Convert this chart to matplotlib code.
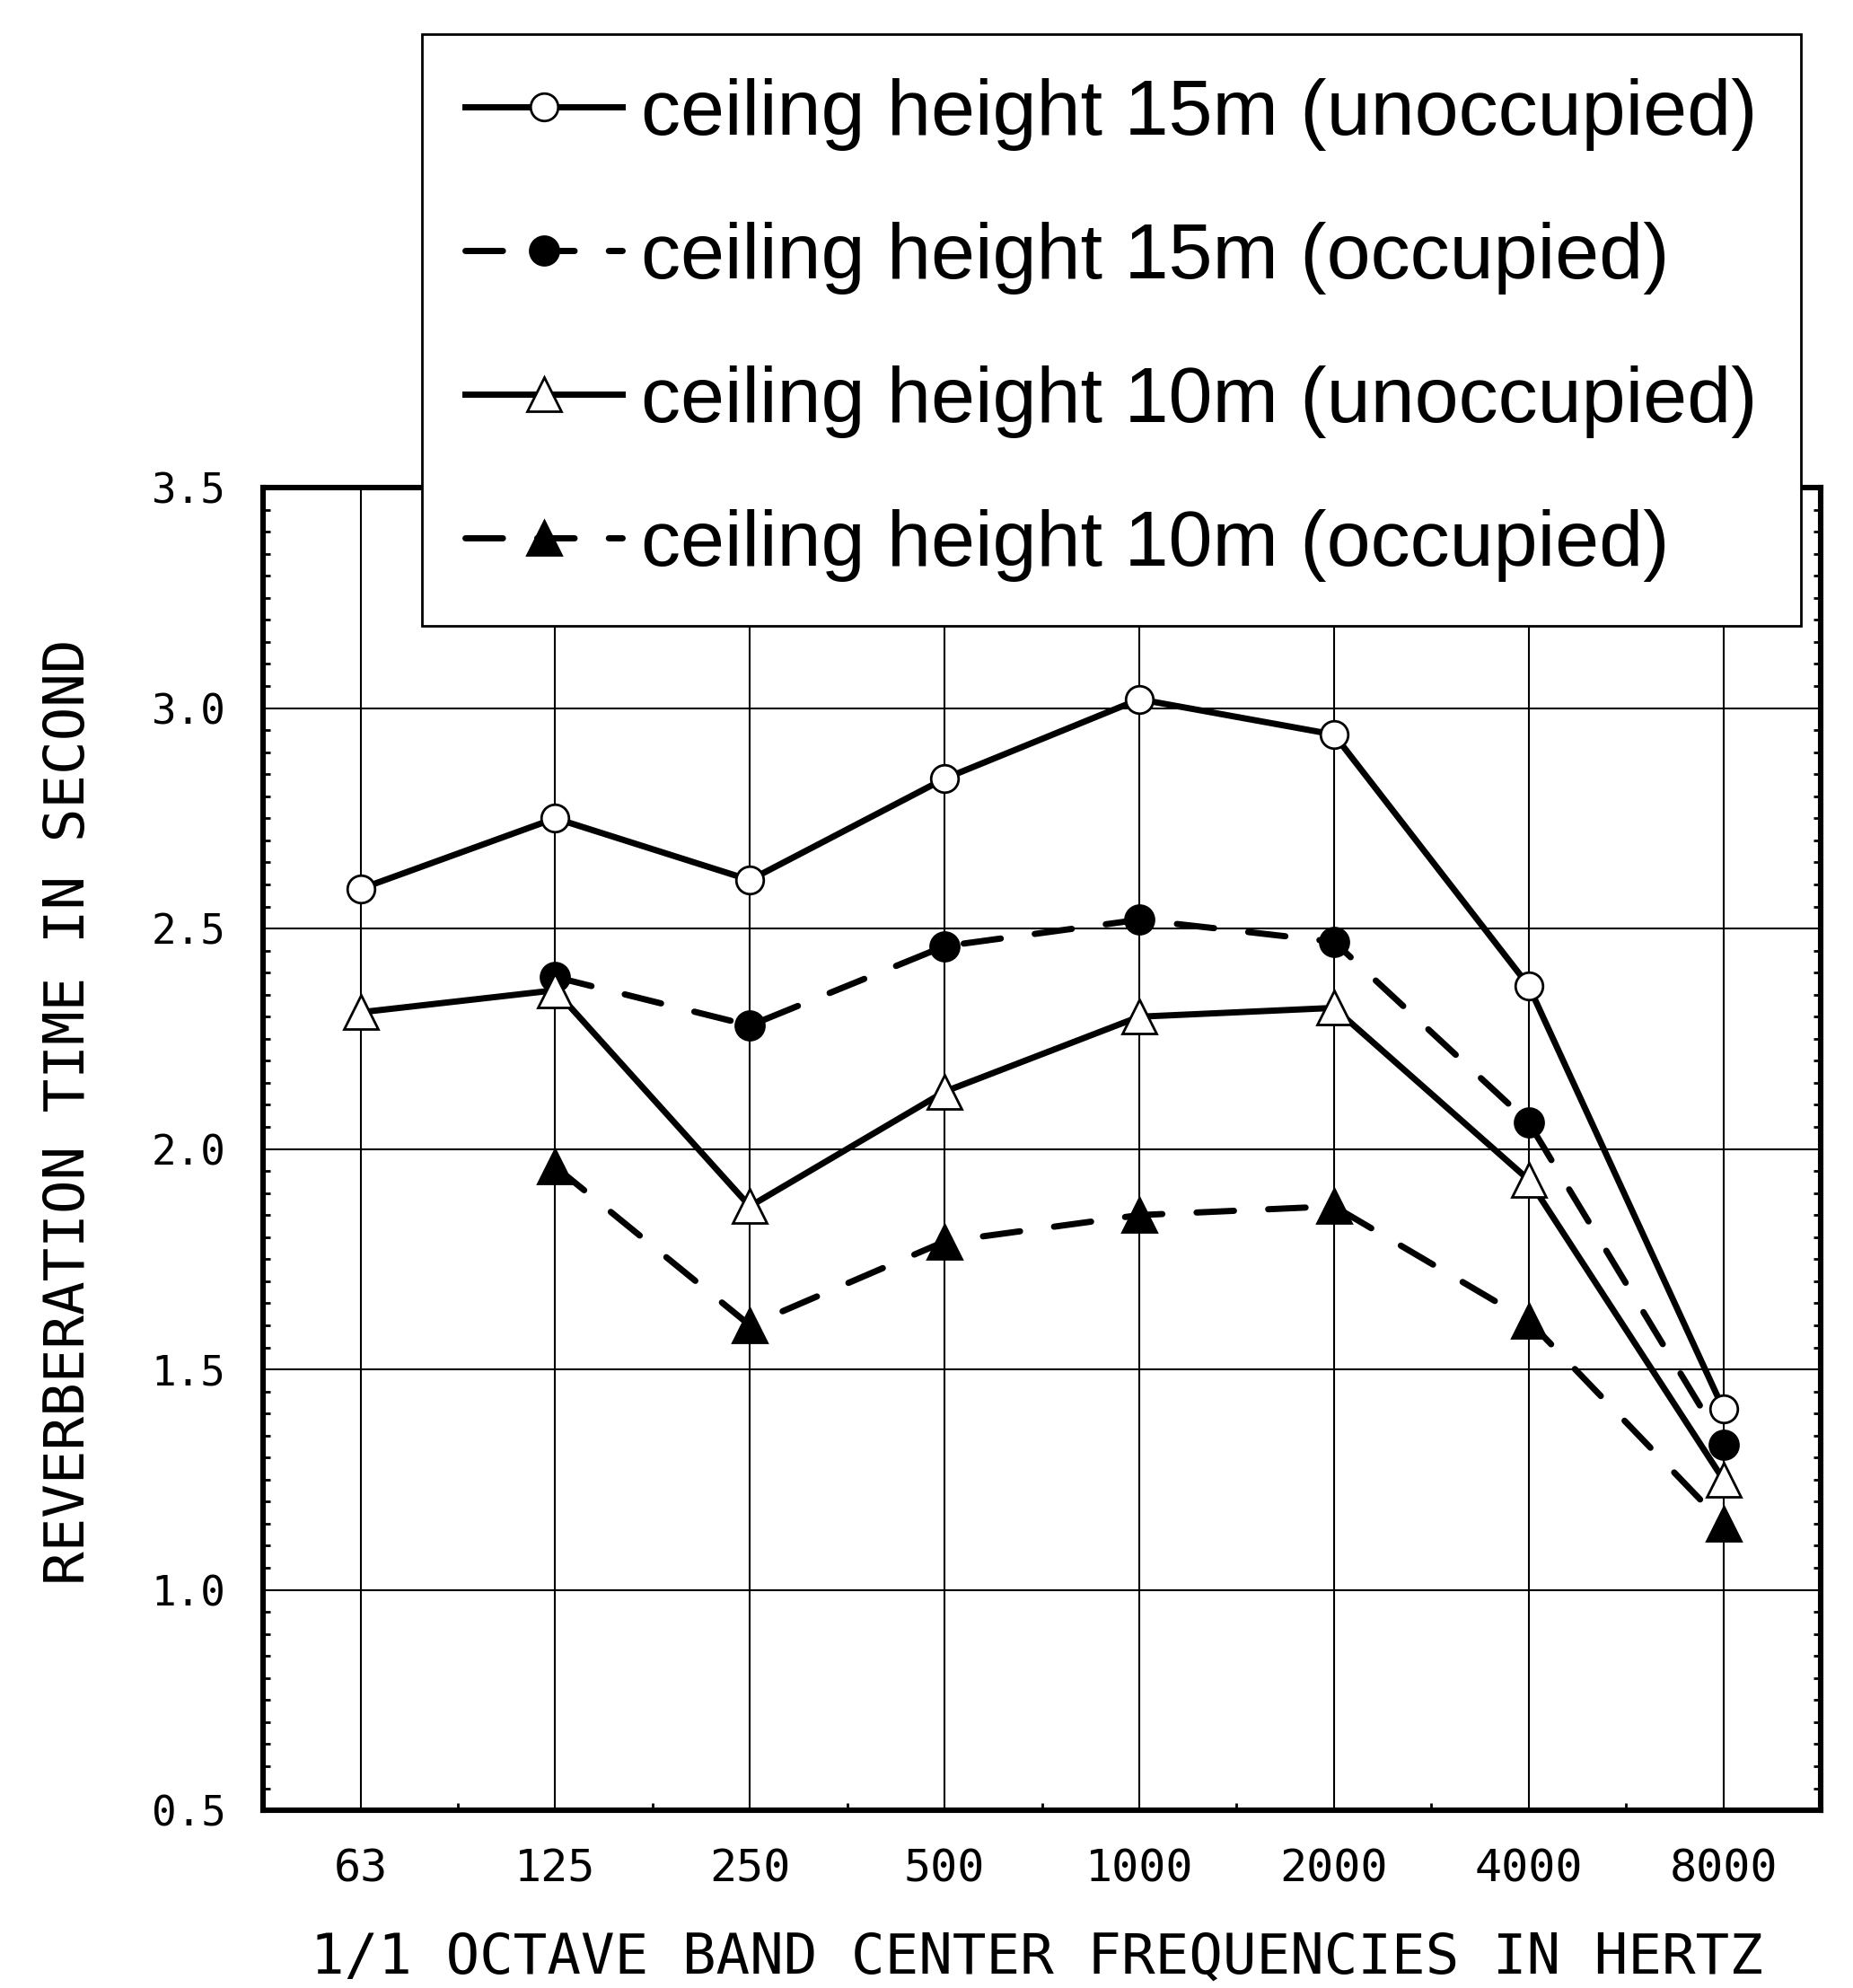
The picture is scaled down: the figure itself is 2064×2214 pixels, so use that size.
import numpy as np
import matplotlib
matplotlib.use("Agg")
import matplotlib.pyplot as plt
from matplotlib.ticker import MultipleLocator, FixedLocator

freqs = ["63", "125", "250", "500", "1000", "2000", "4000", "8000"]
h15_unocc = [2.59, 2.75, 2.61, 2.84, 3.02, 2.94, 2.37, 1.41]
h15_occ = [np.nan, 2.39, 2.28, 2.46, 2.52, 2.47, 2.06, 1.33]
h10_unocc = [2.31, 2.36, 1.87, 2.13, 2.30, 2.32, 1.93, 1.25]
h10_occ = [np.nan, 1.96, 1.60, 1.79, 1.85, 1.87, 1.61, 1.15]

labels = ["ceiling height 15m (unoccupied)",
          "ceiling height 15m (occupied)",
          "ceiling height 10m (unoccupied)",
          "ceiling height 10m (occupied)"]

mono = "DejaVu Sans Mono"

fig = plt.figure(figsize=(10.32, 11.07), dpi=200)
ax = fig.add_axes([0.142, 0.0894, 0.8406, 0.6653])

x = np.arange(len(freqs))
dash = (0, (6, 5.5))
lw = 2.5

l1, = ax.plot(x, h15_unocc, color="black", lw=lw, marker="o", ms=11,
              mfc="white", mec="black", mew=1.0, zorder=3)
l2, = ax.plot(x, h15_occ, color="black", lw=lw, ls=dash, dash_capstyle="round",
              marker="o", ms=11.5, mfc="black", mec="black", zorder=3)
l3, = ax.plot(x, h10_unocc, color="black", lw=lw, marker="^", ms=14,
              mfc="white", mec="black", mew=1.0, zorder=3)
l4, = ax.plot(x, h10_occ, color="black", lw=lw, ls=dash, dash_capstyle="round",
              marker="^", ms=14, mfc="black", mec="black", zorder=3)

ax.set_xlim(-0.5, 7.5)
ax.set_ylim(0.5, 3.5)
ax.set_xticks(x)
ax.set_xticklabels(freqs, fontfamily=mono, fontsize=18)
ax.yaxis.set_major_locator(MultipleLocator(0.5))
ax.yaxis.set_major_formatter(matplotlib.ticker.FormatStrFormatter("%.1f"))
for t in ax.get_yticklabels():
    t.set_fontfamily(mono)
    t.set_fontsize(16.5)
ax.yaxis.set_minor_locator(MultipleLocator(0.05))
ax.xaxis.set_minor_locator(FixedLocator(np.arange(-0.5, 8, 1.0)))
ax.tick_params(which="major", length=0)
ax.tick_params(axis="y", which="major", pad=15)
ax.tick_params(axis="x", which="major", pad=15)
ax.tick_params(which="minor", direction="in", length=3, width=1.0,
               left=True, right=True, bottom=True)
ax.grid(True, which="major", color="black", lw=0.75)
ax.set_axisbelow(True)

for s in ax.spines.values():
    s.set_linewidth(2.2)

ax.set_ylabel("REVERBERATION TIME IN SECOND", fontfamily=mono, fontsize=22.5,
              va="center")
ax.yaxis.set_label_coords(-0.1245, 0.528)
ax.set_xlabel("1/1 OCTAVE BAND CENTER FREQUENCIES IN HERTZ", fontfamily=mono,
              fontsize=22.5, va="baseline")
ax.xaxis.set_label_coords(0.497, -0.123)

leg = fig.legend([l1, l2, l3, l4], labels, loc="upper left",
                 bbox_to_anchor=(0.2277, 0.9828),
                 prop={"family": "Liberation Sans", "size": 31.7},
                 handlelength=1.98, handletextpad=0.24, borderpad=0.55,
                 labelspacing=0.9, fancybox=False, framealpha=1,
                 edgecolor="black", borderaxespad=0)
leg.get_frame().set_linewidth(1.0)

fig.savefig("out.png", dpi=200)
